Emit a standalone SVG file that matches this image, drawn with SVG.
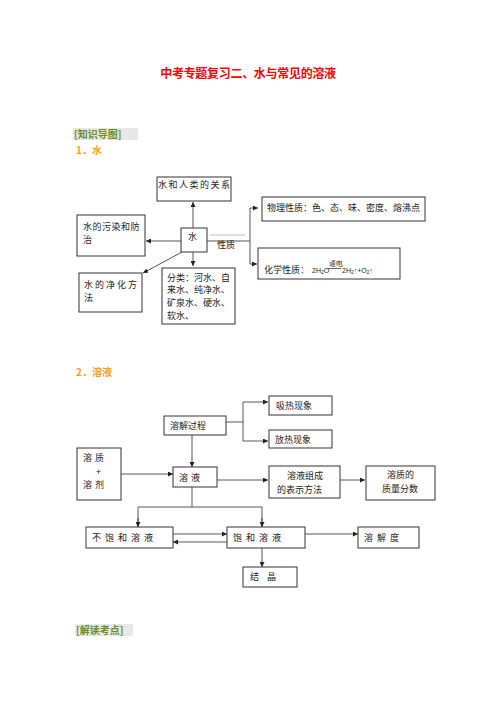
<svg xmlns="http://www.w3.org/2000/svg" width="496" height="702" viewBox="0 0 496 702">
<style>
text{font-family:"Noto Sans CJK SC","Noto Sans",sans-serif;fill:#222;font-size:9px}
.box{fill:#fff;stroke:#333;stroke-width:1}
.ln{fill:none;stroke:#444;stroke-width:0.9}
.ar{fill:none;stroke:#444;stroke-width:0.9;marker-end:url(#ah)}
.title{fill:#f00;font-weight:bold;font-size:12px}
.hd{fill:#6b8e23;font-weight:bold;font-size:10px}
.sec{fill:#f7a21b;font-weight:bold;font-size:10px}
.f{font-family:"Liberation Sans",sans-serif;font-size:7px}
.sub{font-size:5px}
</style>
<defs>
<marker id="ah" viewBox="0 0 8 8" refX="8" refY="4" markerWidth="5" markerHeight="5" orient="auto" markerUnits="userSpaceOnUse">
<path d="M0,0 L8,4 L0,8 z" fill="#222"/>
</marker>
</defs>
<rect width="496" height="702" fill="#fff"/>
<text class="title" x="248" y="78" text-anchor="middle" letter-spacing="-0.3">中考专题复习二、水与常见的溶液</text>
<rect x="73" y="128" width="65" height="12" fill="#e8e8e8"/>
<text class="hd" x="74" y="138">[知识导图]</text>
<text class="sec" x="76" y="154">1．水</text>

<g id="connectors">
<line class="ar" x1="193" y1="228" x2="193" y2="202"/>
<line class="ar" x1="181" y1="241" x2="146" y2="241"/>
<line class="ar" x1="182" y1="252" x2="143" y2="273"/>
<line class="ar" x1="193" y1="252" x2="193" y2="266"/>
<line x1="210" y1="235" x2="245" y2="235" stroke="#bbb" stroke-width="1"/>
<polyline class="ln" points="207,241 250,241"/>
<line class="ln" x1="250" y1="208" x2="250" y2="264"/>
<line class="ar" x1="250" y1="208" x2="258" y2="208"/>
<line class="ar" x1="250" y1="264" x2="257" y2="264"/>

<polyline class="ln" points="226,422 243,422"/>
<line class="ln" x1="243" y1="402" x2="243" y2="441"/>
<line class="ar" x1="243" y1="402" x2="268" y2="402"/>
<line class="ar" x1="243" y1="441" x2="268" y2="441"/>
<line class="ar" x1="192" y1="435" x2="192" y2="467"/>
<line class="ar" x1="121" y1="474" x2="173" y2="474"/>
<line class="ar" x1="217" y1="480" x2="268" y2="480"/>
<line class="ar" x1="340" y1="480" x2="365" y2="480"/>
<line class="ln" x1="192" y1="487" x2="192" y2="507"/>
<polyline class="ln" points="138,527 138,507 262,507 262,527"/>
<line class="ar" x1="138" y1="518" x2="138" y2="527"/>
<line class="ar" x1="262" y1="518" x2="262" y2="527"/>
<line class="ar" x1="173" y1="534" x2="227" y2="534"/>
<line class="ar" x1="227" y1="542" x2="173" y2="542"/>
<line class="ar" x1="305" y1="534" x2="358" y2="534"/>
<line class="ar" x1="262" y1="548" x2="262" y2="567"/>
</g>

<g id="n-relation"><rect class="box" x="157" y="177" width="74" height="24"/><text x="158" y="188" letter-spacing="1.5">水和人类的关系</text></g>
<g id="n-water"><rect class="box" x="181" y="228" width="26" height="24"/><text x="188" y="240">水</text></g>
<g id="n-pollution"><rect class="box" x="77" y="215" width="68" height="41"/><text x="83" y="230" letter-spacing="0.5">水的污染和防</text><text x="83" y="243">治</text></g>
<g id="n-purify"><rect class="box" x="79" y="273" width="63" height="39"/><text x="84" y="288" letter-spacing="2">水的净化方</text><text x="84" y="301">法</text></g>
<g id="n-classify"><rect class="box" x="162" y="268" width="73" height="56"/>
<text x="167" y="281">分类：河水、自</text><text x="167" y="293">来水、纯净水、</text><text x="167" y="306">矿泉水、硬水、</text><text x="167" y="319">软水、</text></g>
<text x="217" y="248" font-size="8">性质</text>
<g id="n-physical"><rect class="box" x="262" y="197" width="163" height="24"/><text x="267" y="211" font-size="8.6">物理性质：色、态、味、密度、熔沸点</text></g>
<g id="n-chemical"><rect class="box" x="258" y="248" width="142" height="31"/>
<text x="264" y="273" font-size="9">化学性质<tspan fill="#1e3cff">：</tspan></text>
<text class="f" x="312" y="273">2H<tspan class="sub" dy="1">2</tspan><tspan dy="-1">O</tspan></text>
<text class="f" x="329" y="266" font-size="5">通电</text>
<line x1="328" y1="268.5" x2="341" y2="268.5" stroke="#222" stroke-width="0.7"/>
<text class="f" x="342" y="273">2H<tspan class="sub" dy="1">2</tspan><tspan dy="-1">↑+O</tspan><tspan class="sub" dy="1">2</tspan><tspan dy="-1">↑</tspan></text>
</g>

<text class="sec" x="76" y="376">2．溶液</text>
<g id="n-process"><rect class="box" x="164" y="416" width="62" height="19"/><text x="170" y="429">溶解过程</text></g>
<g id="n-absorb"><rect class="box" x="269" y="396" width="63" height="19"/><text x="276" y="409">吸热现象</text></g>
<g id="n-release"><rect class="box" x="269" y="430" width="63" height="18"/><text x="275" y="443">放热现象</text></g>
<g id="n-solute"><rect class="box" x="77" y="448" width="44" height="52"/><text x="83" y="461" letter-spacing="3">溶质</text><text x="96" y="475">+</text><text x="83" y="488" letter-spacing="3">溶剂</text></g>
<g id="n-solution"><rect class="box" x="173" y="467" width="44" height="20"/><text x="179" y="481" letter-spacing="3">溶液</text></g>
<g id="n-compose"><rect class="box" x="269" y="466" width="71" height="32"/><text x="287" y="479">溶液组成</text><text x="277" y="493">的表示方法</text></g>
<g id="n-fraction"><rect class="box" x="366" y="466" width="69" height="34"/><text x="387" y="478">溶质的</text><text x="382" y="492">质量分数</text></g>
<g id="n-unsat"><rect class="box" x="86" y="527" width="87" height="21"/><text x="92" y="541" letter-spacing="4">不饱和溶液</text></g>
<g id="n-sat"><rect class="box" x="227" y="527" width="78" height="21"/><text x="233" y="541" letter-spacing="4">饱和溶液</text></g>
<g id="n-solubility"><rect class="box" x="358" y="527" width="61" height="21"/><text x="364" y="541" letter-spacing="4">溶解度</text></g>
<g id="n-crystal"><rect class="box" x="243" y="567" width="54" height="20"/><text x="250" y="580" letter-spacing="8">结晶</text></g>

<rect x="75" y="624" width="58" height="12" fill="#e8e8e8"/>
<text class="hd" x="76" y="634">[解读考点]</text>
</svg>
